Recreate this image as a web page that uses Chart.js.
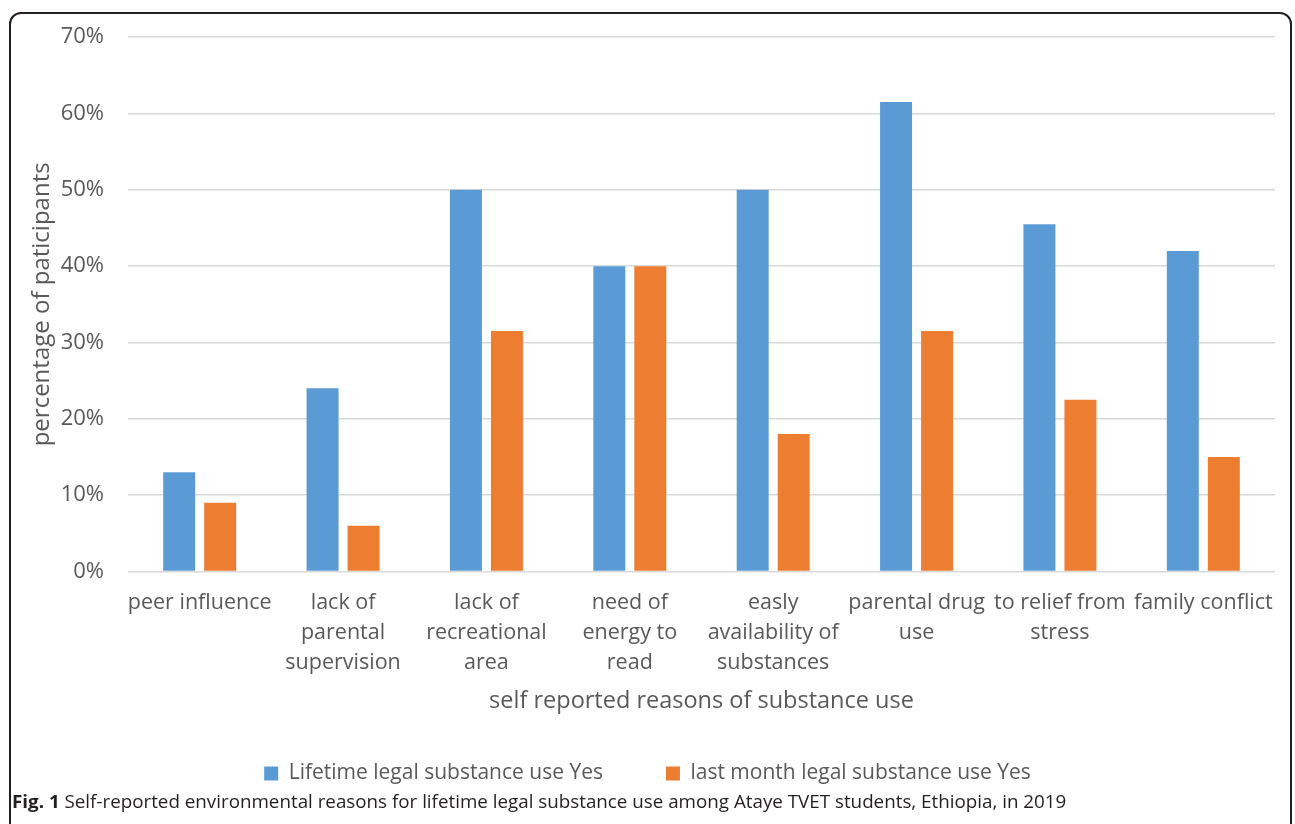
<!DOCTYPE html>
<html>
<head>
<meta charset="utf-8">
<script src="https://cdn.jsdelivr.net/npm/chart.js@4.4.1/dist/chart.umd.min.js"></script>
<style>
  html, body { margin: 0; padding: 0; background: #fff; overflow: hidden; }
  body { width: 1295px; height: 824px; position: relative; font-family: "Open Sans", sans-serif; }
  #frame {
    position: absolute; left: 9px; top: 12px; width: 1283px; height: 900px;
    border: 2px solid #231f20; border-radius: 12px; box-sizing: border-box;
  }
  #chart { position: absolute; left: 0; top: 0; }
  #caption {
    position: absolute; left: 12px; top: 789px; white-space: nowrap;
    font-size: 18px; color: #231f20; transform-origin: 0 0; line-height: 24px;
  }
  #caption b { font-weight: 700; }
</style>
</head>
<body>
<div id="frame"></div>
<canvas id="chart" width="1295" height="800"></canvas>
<div id="caption"><b>Fig. 1</b> Self-reported environmental reasons for lifetime legal substance use among Ataye TVET students, Ethiopia, in 2019</div>
<script>
// Reasons reported for substance use (multi-line category labels)
const reasons = [
  ["peer influence"],
  ["lack of", "parental", "supervision"],
  ["lack of", "recreational", "area"],
  ["need of", "energy to", "read"],
  ["easly", "availability of", "substances"],
  ["parental drug", "use"],
  ["to relief from", "stress"],
  ["family conflict"]
];

// Percentage of participants per reason
const lifetimeUse = [13, 24, 50, 40, 50, 61.5, 45.5, 42];
const lastMonthUse = [9, 6, 31.5, 40, 18, 31.5, 22.5, 15];

const seriesNames = ["Lifetime legal substance use Yes", "last month legal substance use Yes"];
const yTicks = [0, 10, 20, 30, 40, 50, 60, 70];

const textColor = "#595959";
const gridColor = "#d9d9d9";
const font = "'Open Sans', sans-serif";

new Chart(document.getElementById("chart"), {
  type: "bar",
  data: {
    labels: reasons,
    datasets: [
      { label: seriesNames[0], data: lifetimeUse, backgroundColor: "#5b9bd5",
        categoryPercentage: 0.572, barPercentage: 0.78 },
      { label: seriesNames[1], data: lastMonthUse, backgroundColor: "#ed7d31",
        categoryPercentage: 0.572, barPercentage: 0.78 }
    ]
  },
  options: {
    responsive: false,
    animation: false,
    devicePixelRatio: 1,
    layout: { padding: { left: 20, right: 20, top: 37, bottom: 6 } },
    plugins: {
      tooltip: { enabled: false },
      legend: {
        position: "bottom",
        labels: {
          boxWidth: 14, boxHeight: 14, padding: 63,
          color: textColor,
          font: { family: font, size: 21 }
        }
      }
    },
    scales: {
      x: {
        grid: { display: false, drawTicks: false },
        border: { display: false },
        ticks: {
          color: textColor, maxRotation: 0, minRotation: 0, autoSkip: false,
          padding: 16,
          font: { family: font, size: 21.5, lineHeight: "30px" }
        },
        title: {
          display: true, text: "self reported reasons of substance use",
          color: textColor, font: { family: font, size: 23.5 },
          padding: { top: 0, bottom: -15.5 }
        },
        afterFit: (s) => { s.height = 128.5; }
      },
      y: {
        min: 0, max: 70,
        afterBuildTicks: (s) => { s.ticks = yTicks.map(v => ({ value: v })); },
        grid: { color: gridColor, lineWidth: 1.5, drawTicks: false },
        border: { display: false },
        ticks: {
          color: textColor, padding: 24,
          font: { family: font, size: 22 },
          callback: (v) => v + "%"
        },
        title: {
          display: true, text: "percentage of paticipants",
          color: textColor, font: { family: font, size: 24 },
          padding: { top: 8, bottom: 0 }
        },
        afterFit: (s) => { s.width = 108; }
      }
    }
  }
});

// Fit the caption to its line width
const cap = document.getElementById("caption");
const w = cap.offsetWidth;
cap.style.transform = "scaleX(" + (1054 / w) + ")";
</script>
</body>
</html>
